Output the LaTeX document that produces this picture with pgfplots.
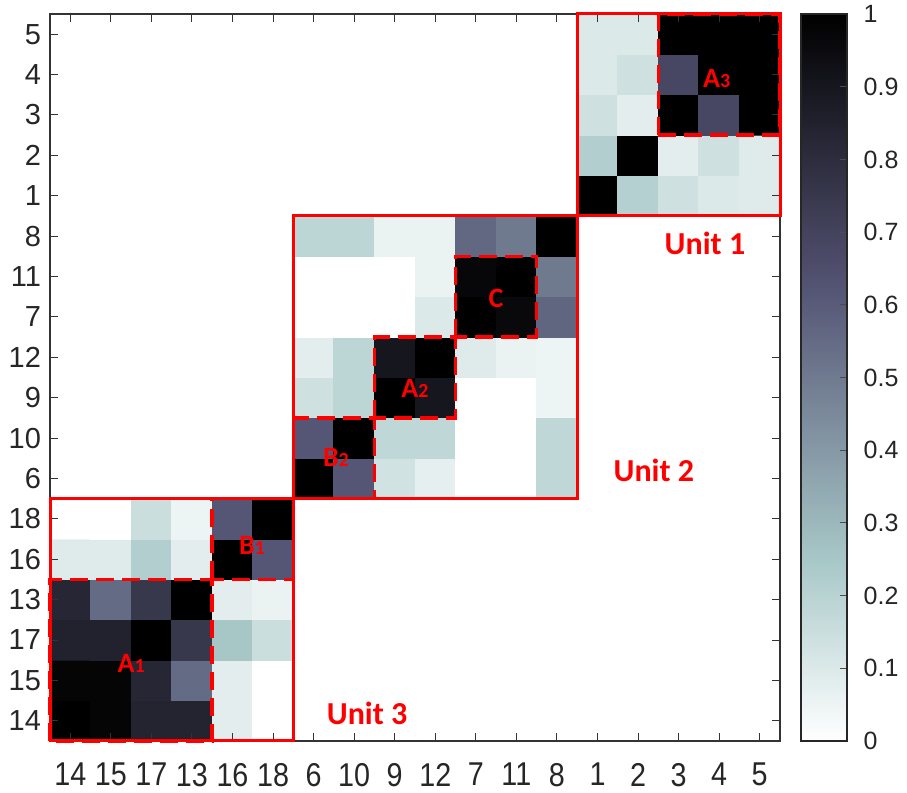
\documentclass[border=0pt]{standalone}
\usepackage{pgfplots}
\pgfplotsset{compat=1.18}
\usepackage{graphicx}
\usepackage{fontspec}
\setmainfont{Liberation Sans}
\newfontfamily\calib{Carlito}
\newcommand\sx[1]{\scalebox{0.87}[1]{#1}}
\definecolor{uRed}{RGB}{255,0,0}
\newcommand\lab[2]{#1{\fontsize{10}{10}\selectfont #2}}
\begin{document}
\begin{tikzpicture}
\begin{axis}[
 scale only axis, width=365pt, height=363.5pt,
 xmin=-0.5, xmax=17.5, ymin=-0.5, ymax=17.5, enlargelimits=false,
 axis on top,
 colormap={bonerev}{rgb=(1,1,1) rgb=(0.828,0.891,0.891) rgb=(0.656,0.781,0.781) rgb=(0.547,0.630,0.672) rgb=(0.4375,0.479,0.5625) rgb=(0.328,0.328,0.453) rgb=(0.219,0.219,0.302) rgb=(0.109,0.109,0.151) rgb=(0,0,0)},
 point meta min=0, point meta max=1,
 xtick={0,...,17}, ytick={0,...,17},
 xticklabels={\sx{14},\sx{15},\sx{17},\sx{13},\sx{16},\sx{18},\sx{6},\sx{10},\sx{9},\sx{12},\sx{7},\sx{11},\sx{8},\sx{1},\sx{2},\sx{3},\sx{4},\sx{5}},
 yticklabels={14,15,17,13,16,18,6,10,9,12,7,11,8,1,2,3,4,5},
 xticklabel style={font=\fontsize{16.5}{16.5}\selectfont, yshift=-7.5pt, text=black!85},
 yticklabel style={font=\fontsize{14.5}{14.5}\selectfont, xshift=-1pt, text=black!85},
 tick align=inside, major tick length=4pt,
 tick style={black!80, line width=0.5pt},
 axis line style={black!80, line width=0.7pt},
 colorbar,
 colorbar/width=23pt,
 colorbar style={
   scale only axis, width=23pt, height=363.5pt,
   at={(parent axis.south east)}, anchor=south west, xshift=2pt,
   ymin=0, ymax=1,
   ytick={0,0.1,0.2,0.3,0.4,0.5,0.6,0.7,0.8,0.9,1},
   ytick pos=right, yticklabel pos=right,
   tick align=inside, major tick length=3.5pt,
   tick style={black!70, line width=0.5pt},
   axis line style={black!85, line width=0.8pt},
   yticklabel style={font=\fontsize{12.5}{12.5}\selectfont, /pgf/number format/assume math mode=true, xshift=4.8pt, text=black!85},
 },
]
\addplot[matrix plot*, mesh/cols=18, point meta=explicit, draw=none] coordinates {
(0,0)[1] (1,0)[0.98] (2,0)[0.84] (3,0)[0.84] (4,0)[0.08] (5,0)[0] (6,0)[0] (7,0)[0] (8,0)[0] (9,0)[0] (10,0)[0] (11,0)[0] (12,0)[0] (13,0)[0] (14,0)[0] (15,0)[0] (16,0)[0] (17,0)[0]
(0,1)[0.98] (1,1)[0.98] (2,1)[0.83] (3,1)[0.55] (4,1)[0.08] (5,1)[0] (6,1)[0] (7,1)[0] (8,1)[0] (9,1)[0] (10,1)[0] (11,1)[0] (12,1)[0] (13,1)[0] (14,1)[0] (15,1)[0] (16,1)[0] (17,1)[0]
(0,2)[0.85] (1,2)[0.85] (2,2)[1] (3,2)[0.75] (4,2)[0.25] (5,2)[0.15] (6,2)[0] (7,2)[0] (8,2)[0] (9,2)[0] (10,2)[0] (11,2)[0] (12,2)[0] (13,2)[0] (14,2)[0] (15,2)[0] (16,2)[0] (17,2)[0]
(0,3)[0.83] (1,3)[0.55] (2,3)[0.75] (3,3)[1] (4,3)[0.08] (5,3)[0.06] (6,3)[0] (7,3)[0] (8,3)[0] (9,3)[0] (10,3)[0] (11,3)[0] (12,3)[0] (13,3)[0] (14,3)[0] (15,3)[0] (16,3)[0] (17,3)[0]
(0,4)[0.09] (1,4)[0.09] (2,4)[0.22] (3,4)[0.08] (4,4)[1] (5,4)[0.62] (6,4)[0] (7,4)[0] (8,4)[0] (9,4)[0] (10,4)[0] (11,4)[0] (12,4)[0] (13,4)[0] (14,4)[0] (15,4)[0] (16,4)[0] (17,4)[0]
(0,5)[0] (1,5)[0] (2,5)[0.15] (3,5)[0.05] (4,5)[0.62] (5,5)[1] (6,5)[0] (7,5)[0] (8,5)[0] (9,5)[0] (10,5)[0] (11,5)[0] (12,5)[0] (13,5)[0] (14,5)[0] (15,5)[0] (16,5)[0] (17,5)[0]
(0,6)[0] (1,6)[0] (2,6)[0] (3,6)[0] (4,6)[0] (5,6)[0] (6,6)[1] (7,6)[0.62] (8,6)[0.13] (9,6)[0.07] (10,6)[0] (11,6)[0] (12,6)[0.18] (13,6)[0] (14,6)[0] (15,6)[0] (16,6)[0] (17,6)[0]
(0,7)[0] (1,7)[0] (2,7)[0] (3,7)[0] (4,7)[0] (5,7)[0] (6,7)[0.62] (7,7)[1] (8,7)[0.18] (9,7)[0.18] (10,7)[0] (11,7)[0] (12,7)[0.18] (13,7)[0] (14,7)[0] (15,7)[0] (16,7)[0] (17,7)[0]
(0,8)[0] (1,8)[0] (2,8)[0] (3,8)[0] (4,8)[0] (5,8)[0] (6,8)[0.14] (7,8)[0.19] (8,8)[1] (9,8)[0.9] (10,8)[0] (11,8)[0] (12,8)[0.05] (13,8)[0] (14,8)[0] (15,8)[0] (16,8)[0] (17,8)[0]
(0,9)[0] (1,9)[0] (2,9)[0] (3,9)[0] (4,9)[0] (5,9)[0] (6,9)[0.08] (7,9)[0.19] (8,9)[0.9] (9,9)[1] (10,9)[0.09] (11,9)[0.06] (12,9)[0.05] (13,9)[0] (14,9)[0] (15,9)[0] (16,9)[0] (17,9)[0]
(0,10)[0] (1,10)[0] (2,10)[0] (3,10)[0] (4,10)[0] (5,10)[0] (6,10)[0] (7,10)[0] (8,10)[0] (9,10)[0.1] (10,10)[1] (11,10)[0.96] (12,10)[0.57] (13,10)[0] (14,10)[0] (15,10)[0] (16,10)[0] (17,10)[0]
(0,11)[0] (1,11)[0] (2,11)[0] (3,11)[0] (4,11)[0] (5,11)[0] (6,11)[0] (7,11)[0] (8,11)[0] (9,11)[0.06] (10,11)[0.97] (11,11)[1] (12,11)[0.5] (13,11)[0] (14,11)[0] (15,11)[0] (16,11)[0] (17,11)[0]
(0,12)[0] (1,12)[0] (2,12)[0] (3,12)[0] (4,12)[0] (5,12)[0] (6,12)[0.19] (7,12)[0.19] (8,12)[0.06] (9,12)[0.06] (10,12)[0.56] (11,12)[0.5] (12,12)[1] (13,12)[0] (14,12)[0] (15,12)[0] (16,12)[0] (17,12)[0]
(0,13)[0] (1,13)[0] (2,13)[0] (3,13)[0] (4,13)[0] (5,13)[0] (6,13)[0] (7,13)[0] (8,13)[0] (9,13)[0] (10,13)[0] (11,13)[0] (12,13)[0] (13,13)[1] (14,13)[0.21] (15,13)[0.14] (16,13)[0.1] (17,13)[0.09]
(0,14)[0] (1,14)[0] (2,14)[0] (3,14)[0] (4,14)[0] (5,14)[0] (6,14)[0] (7,14)[0] (8,14)[0] (9,14)[0] (10,14)[0] (11,14)[0] (12,14)[0] (13,14)[0.22] (14,14)[1] (15,14)[0.08] (16,14)[0.14] (17,14)[0.09]
(0,15)[0] (1,15)[0] (2,15)[0] (3,15)[0] (4,15)[0] (5,15)[0] (6,15)[0] (7,15)[0] (8,15)[0] (9,15)[0] (10,15)[0] (11,15)[0] (12,15)[0] (13,15)[0.14] (14,15)[0.08] (15,15)[1] (16,15)[0.68] (17,15)[1]
(0,16)[0] (1,16)[0] (2,16)[0] (3,16)[0] (4,16)[0] (5,16)[0] (6,16)[0] (7,16)[0] (8,16)[0] (9,16)[0] (10,16)[0] (11,16)[0] (12,16)[0] (13,16)[0.1] (14,16)[0.14] (15,16)[0.68] (16,16)[1] (17,16)[1]
(0,17)[0] (1,17)[0] (2,17)[0] (3,17)[0] (4,17)[0] (5,17)[0] (6,17)[0] (7,17)[0] (8,17)[0] (9,17)[0] (10,17)[0] (11,17)[0] (12,17)[0] (13,17)[0.1] (14,17)[0.1] (15,17)[1] (16,17)[1] (17,17)[1]
};
\coordinate (bA) at (axis cs:-0.5,-0.5);
\coordinate (bB) at (axis cs:3.5,3.5);
\coordinate (bC) at (axis cs:5.5,5.5);
\coordinate (bD) at (axis cs:7.5,7.5);
\coordinate (bE) at (axis cs:9.5,9.5);
\coordinate (bF) at (axis cs:11.5,11.5);
\coordinate (bG) at (axis cs:12.5,12.5);
\coordinate (bH) at (axis cs:14.5,14.5);
\coordinate (bI) at (axis cs:17.5,17.5);
\coordinate (tA1) at (axis cs:1.5,1.43);
\coordinate (tB1) at (axis cs:4.48,4.35);
\coordinate (tB2) at (axis cs:6.55,6.53);
\coordinate (tA2) at (axis cs:8.5,8.24);
\coordinate (tC) at (axis cs:10.5,10.47);
\coordinate (tA3) at (axis cs:15.94,15.91);
\coordinate (tU1) at (axis cs:15.65,11.83);
\coordinate (tU2) at (axis cs:14.39,6.21);
\coordinate (tU3) at (axis cs:7.32,0.19);
\end{axis}
\begin{scope}[uRed]
\draw[line width=1.5pt] (bA) rectangle (bC) (bC) rectangle (bG) (bG) rectangle (bI);
\draw[line width=1.8pt, dash pattern=on 9pt off 4pt] (bA) rectangle (bB) (bB) rectangle (bC) (bC) rectangle (bD) (bD) rectangle (bE) (bE) rectangle (bF) (bH) rectangle (bI);
\begin{scope}[every node/.style={text=uRed, inner sep=0pt, font=\calib\bfseries\fontsize{14}{14}\selectfont}]
\node at (tA1) {\lab{A}{1}};
\node at (tB1) {\lab{B}{1}};
\node at (tB2) {\lab{B}{2}};
\node at (tA2) {\lab{A}{2}};
\node at (tC) {C};
\node at (tA3) {\lab{A}{3}};
\node[font=\calib\bfseries\fontsize{16}{16}\selectfont] at (tU1) {Unit 1};
\node[font=\calib\bfseries\fontsize{16}{16}\selectfont] at (tU2) {Unit 2};
\node[font=\calib\bfseries\fontsize{16}{16}\selectfont] at (tU3) {Unit 3};
\end{scope}
\end{scope}
\pgfresetboundingbox
\path (-25pt,-26pt) rectangle (428.5pt,370.5pt);
\end{tikzpicture}
\end{document}
